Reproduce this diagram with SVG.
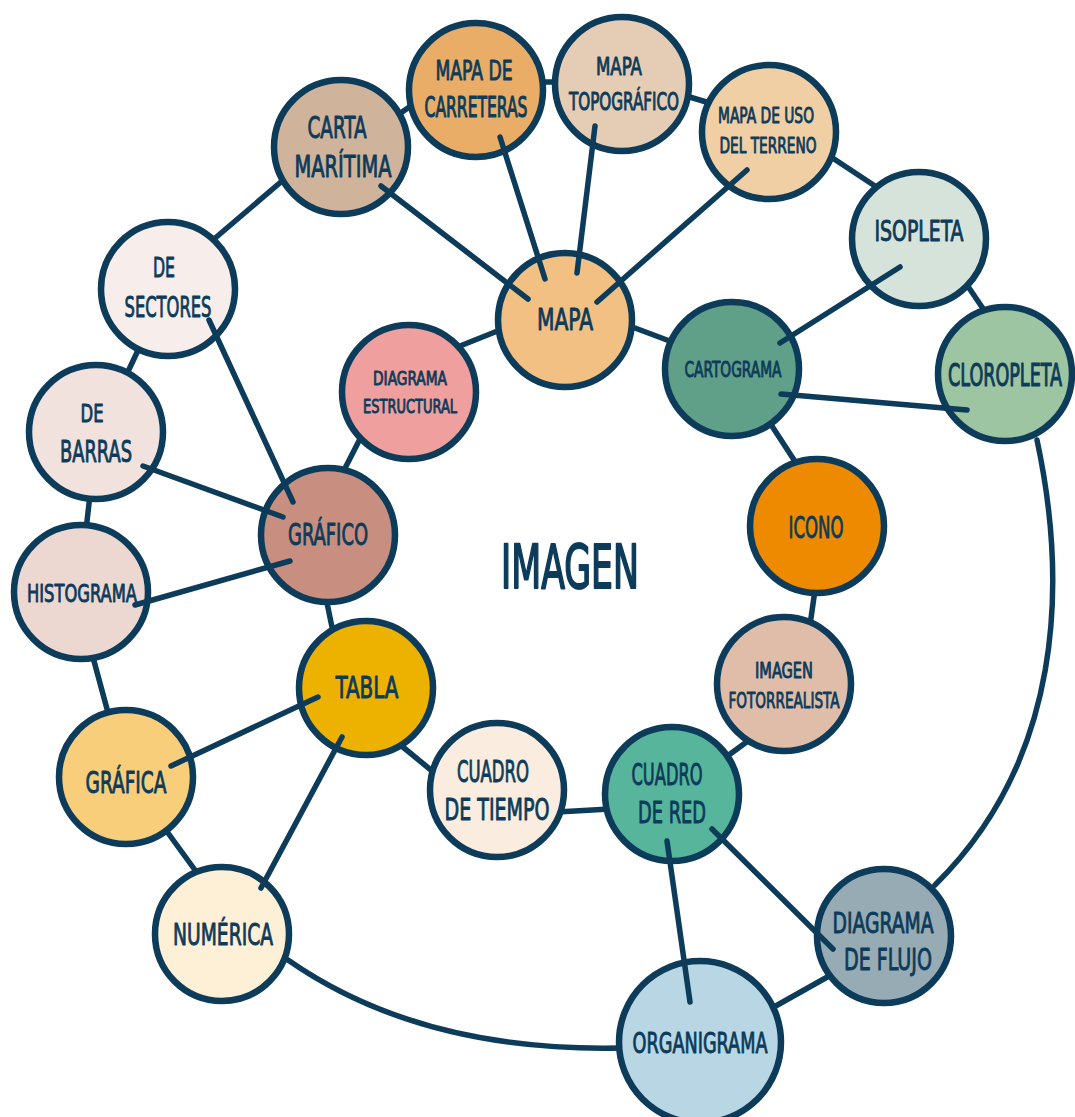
<svg xmlns="http://www.w3.org/2000/svg" width="1075" height="1117" viewBox="0 0 1075 1117">
  <style>
    .node { stroke: #0d3b5a; stroke-width: 6.5; }
    .link { stroke: #0d3b5a; stroke-width: 5.5; stroke-linecap: round; fill: none; }
    .lbl { fill: #0d3b5a; stroke: #0d3b5a; stroke-width: 0.9; stroke-linejoin: round; font-family: "Liberation Sans Narrow", "DejaVu Sans Condensed", "Liberation Sans", sans-serif; text-anchor: middle; }
    .tall { vector-effect: non-scaling-stroke; }
    .title { stroke-width: 2; }
  </style>
  <rect width="1075" height="1117" fill="#ffffff"/>

  <!-- links between neighbouring circles (drawn beneath the circles) -->
  <g id="connectors-ring">
    <line class="link" x1="200" y1="251" x2="295" y2="170"/>
    <line class="link" x1="395" y1="117" x2="415" y2="103"/>
    <line class="link" x1="540" y1="82" x2="560" y2="82"/>
    <line class="link" x1="683" y1="95" x2="713" y2="104"/>
    <line class="link" x1="825" y1="153" x2="878" y2="188"/>
    <line class="link" x1="963" y1="279" x2="988" y2="316"/>
    <path class="link" d="M1037 440 C1068 585 1062 760 935 885"/>
    <line class="link" x1="765" y1="1012" x2="838" y2="971"/>
    <path class="link" d="M288 960 Q420 1052 620 1048"/>
    <line class="link" x1="160" y1="822" x2="203" y2="881"/>
    <line class="link" x1="91" y1="650" x2="110" y2="720"/>
    <line class="link" x1="90" y1="495" x2="86" y2="530"/>
    <line class="link" x1="124" y1="380" x2="141" y2="344"/>
    <line class="link" x1="455" y1="348" x2="505" y2="328"/>
    <line class="link" x1="362" y1="435" x2="340" y2="478"/>
    <line class="link" x1="326" y1="598" x2="333" y2="632"/>
    <line class="link" x1="398" y1="743" x2="437" y2="775"/>
    <line class="link" x1="557" y1="812" x2="610" y2="809"/>
    <line class="link" x1="722" y1="760" x2="752" y2="738"/>
    <line class="link" x1="815" y1="590" x2="810" y2="625"/>
    <line class="link" x1="768" y1="420" x2="798" y2="466"/>
    <line class="link" x1="627" y1="325" x2="675" y2="343"/>
  </g>

  <g id="n-carta-maritima">
    <circle class="node" cx="341" cy="147" r="67" fill="#cfb49b"/>
    <text class="lbl" x="337" y="138" font-size="30" textLength="59" lengthAdjust="spacingAndGlyphs">CARTA</text>
    <text class="lbl" x="343" y="177" font-size="30" textLength="97" lengthAdjust="spacingAndGlyphs">MARÍTIMA</text>
  </g>
  <g id="n-mapa-carreteras">
    <circle class="node" cx="476" cy="90" r="67" fill="#e9ad67"/>
    <text class="lbl" x="474" y="80" font-size="26" textLength="77" lengthAdjust="spacingAndGlyphs">MAPA DE</text>
    <text class="lbl tall" transform="translate(476 117) scale(1 1.69)" x="0" y="0" font-size="17.2" textLength="103" lengthAdjust="spacingAndGlyphs">CARRETERAS</text>
  </g>
  <g id="n-mapa-topografico">
    <circle class="node" cx="622" cy="84" r="67" fill="#e5cdb5"/>
    <text class="lbl" x="619" y="75" font-size="25" textLength="46" lengthAdjust="spacingAndGlyphs">MAPA</text>
    <text class="lbl tall" transform="translate(624 110) scale(1 1.34)" x="0" y="0" font-size="18.6" textLength="110" lengthAdjust="spacingAndGlyphs">TOPOGRÁFICO</text>
  </g>
  <g id="n-mapa-uso-terreno">
    <circle class="node" cx="769" cy="132" r="67" fill="#f1cfa5"/>
    <text class="lbl" x="766" y="123" font-size="21" textLength="96" lengthAdjust="spacingAndGlyphs">MAPA DE USO</text>
    <text class="lbl" x="768" y="153" font-size="21" textLength="97" lengthAdjust="spacingAndGlyphs">DEL TERRENO</text>
  </g>
  <g id="n-isopleta">
    <circle class="node" cx="919" cy="239" r="67" fill="#d6e3da"/>
    <text class="lbl" x="919" y="241" font-size="28" textLength="89" lengthAdjust="spacingAndGlyphs">ISOPLETA</text>
  </g>
  <g id="n-cloropleta">
    <circle class="node" cx="1005" cy="374" r="67" fill="#9ec5a1"/>
    <text class="lbl tall" transform="translate(1005 386) scale(1 1.62)" x="0" y="0" font-size="19.2" textLength="114" lengthAdjust="spacingAndGlyphs">CLOROPLETA</text>
  </g>
  <g id="n-mapa">
    <circle class="node" cx="565" cy="320" r="67" fill="#f2c083"/>
    <text class="lbl" x="565" y="330" font-size="30" textLength="56" lengthAdjust="spacingAndGlyphs">MAPA</text>
  </g>
  <g id="n-cartograma">
    <circle class="node" cx="732" cy="369" r="67" fill="#60a088"/>
    <text class="lbl" x="733" y="377" font-size="22" textLength="97" lengthAdjust="spacingAndGlyphs">CARTOGRAMA</text>
  </g>
  <g id="n-diagrama-estructural">
    <circle class="node" cx="409" cy="392" r="67" fill="#ee9f9e"/>
    <text class="lbl" x="410" y="385" font-size="20" textLength="74" lengthAdjust="spacingAndGlyphs">DIAGRAMA</text>
    <text class="lbl" x="410" y="413" font-size="20" textLength="94" lengthAdjust="spacingAndGlyphs">ESTRUCTURAL</text>
  </g>
  <g id="n-de-sectores">
    <circle class="node" cx="168" cy="289" r="67" fill="#f7eeeb"/>
    <text class="lbl" x="164" y="277" font-size="26" textLength="22" lengthAdjust="spacingAndGlyphs">DE</text>
    <text class="lbl" x="168" y="317" font-size="29" textLength="87" lengthAdjust="spacingAndGlyphs">SECTORES</text>
  </g>
  <g id="n-de-barras">
    <circle class="node" cx="96" cy="432" r="67" fill="#f2e2de"/>
    <text class="lbl" x="92" y="422" font-size="24" textLength="23" lengthAdjust="spacingAndGlyphs">DE</text>
    <text class="lbl" x="96" y="462" font-size="31" textLength="72" lengthAdjust="spacingAndGlyphs">BARRAS</text>
  </g>
  <g id="n-histograma">
    <circle class="node" cx="81" cy="592" r="67" fill="#ecd8d1"/>
    <text class="lbl" x="82" y="602" font-size="25" textLength="110" lengthAdjust="spacingAndGlyphs">HISTOGRAMA</text>
  </g>
  <g id="n-grafico">
    <circle class="node" cx="328" cy="535" r="67" fill="#c88f80"/>
    <text class="lbl" x="328" y="545" font-size="30" textLength="80" lengthAdjust="spacingAndGlyphs">GRÁFICO</text>
  </g>
  <g id="n-icono">
    <circle class="node" cx="817" cy="526" r="67" fill="#ee8a00"/>
    <text class="lbl" x="816" y="538" font-size="30" textLength="55" lengthAdjust="spacingAndGlyphs">ICONO</text>
  </g>
  <g id="n-imagen-fotorrealista">
    <circle class="node" cx="784" cy="684" r="67" fill="#dfbda9"/>
    <text class="lbl" x="784" y="678" font-size="21" textLength="58" lengthAdjust="spacingAndGlyphs">IMAGEN</text>
    <text class="lbl" x="784" y="708" font-size="22" textLength="111" lengthAdjust="spacingAndGlyphs">FOTORREALISTA</text>
  </g>
  <g id="n-tabla">
    <circle class="node" cx="366" cy="688" r="67" fill="#edb200"/>
    <text class="lbl" x="367" y="698" font-size="31" textLength="63" lengthAdjust="spacingAndGlyphs">TABLA</text>
  </g>
  <g id="n-grafica">
    <circle class="node" cx="126" cy="777" r="67" fill="#f8ce7b"/>
    <text class="lbl" x="126" y="793" font-size="31" textLength="81" lengthAdjust="spacingAndGlyphs">GRÁFICA</text>
  </g>
  <g id="n-cuadro-tiempo">
    <circle class="node" cx="497" cy="790" r="67" fill="#fbece0"/>
    <text class="lbl" x="493" y="782" font-size="30" textLength="72" lengthAdjust="spacingAndGlyphs">CUADRO</text>
    <text class="lbl" x="497" y="820" font-size="30" textLength="105" lengthAdjust="spacingAndGlyphs">DE TIEMPO</text>
  </g>
  <g id="n-cuadro-red">
    <circle class="node" cx="672" cy="794" r="67" fill="#56b59b"/>
    <text class="lbl" x="667" y="785" font-size="30" textLength="71" lengthAdjust="spacingAndGlyphs">CUADRO</text>
    <text class="lbl" x="672" y="823" font-size="30" textLength="68" lengthAdjust="spacingAndGlyphs">DE RED</text>
  </g>
  <g id="n-numerica">
    <circle class="node" cx="222" cy="934" r="67" fill="#fdf0d6"/>
    <text class="lbl" x="223" y="945" font-size="30" textLength="100" lengthAdjust="spacingAndGlyphs">NUMÉRICA</text>
  </g>
  <g id="n-diagrama-flujo">
    <circle class="node" cx="884" cy="936" r="67" fill="#96abb3"/>
    <text class="lbl" x="883" y="933" font-size="28" textLength="101" lengthAdjust="spacingAndGlyphs">DIAGRAMA</text>
    <text class="lbl" x="888" y="970" font-size="30" textLength="88" lengthAdjust="spacingAndGlyphs">DE FLUJO</text>
  </g>
  <g id="n-organigrama">
    <circle class="node" cx="700" cy="1042" r="81" fill="#b8d6e3"/>
    <text class="lbl" x="700" y="1053" font-size="28" textLength="135" lengthAdjust="spacingAndGlyphs">ORGANIGRAMA</text>
  </g>

  <g id="title">
    <text class="lbl title" x="570" y="588" font-size="60" textLength="138" lengthAdjust="spacingAndGlyphs">IMAGEN</text>
  </g>

  <!-- hub spokes, drawn over the circle fills -->
  <g id="connectors-spokes">
    <line class="link" x1="545" y1="279" x2="500" y2="137"/>
    <line class="link" x1="577" y1="273" x2="595" y2="126"/>
    <line class="link" x1="597" y1="302" x2="747" y2="170"/>
    <line class="link" x1="528" y1="299" x2="381" y2="186"/>
    <line class="link" x1="780" y1="343" x2="900" y2="267"/>
    <line class="link" x1="781" y1="394" x2="967" y2="410"/>
    <line class="link" x1="293" y1="502" x2="209" y2="320"/>
    <line class="link" x1="283" y1="517" x2="143" y2="466"/>
    <line class="link" x1="290" y1="561" x2="135" y2="605"/>
    <line class="link" x1="318" y1="697" x2="171" y2="766"/>
    <line class="link" x1="342" y1="737" x2="261" y2="888"/>
    <line class="link" x1="667" y1="841" x2="690" y2="1002"/>
    <line class="link" x1="712" y1="829" x2="833" y2="949"/>
  </g>
</svg>
